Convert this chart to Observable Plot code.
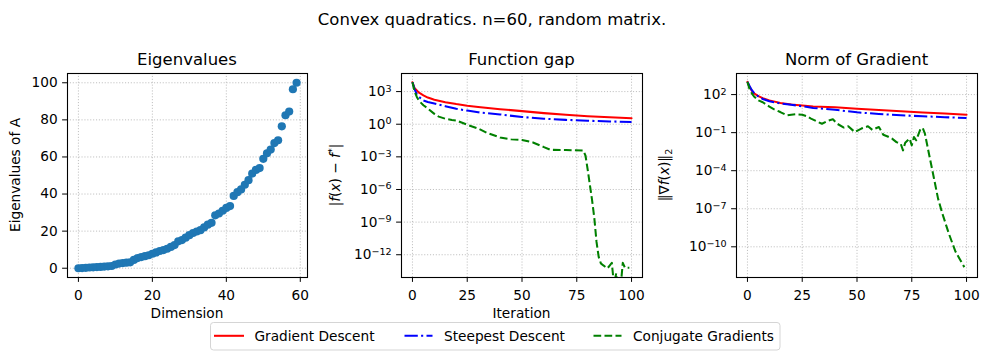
<!DOCTYPE html>
<html><head><meta charset="utf-8">
<script src="https://cdn.jsdelivr.net/npm/d3@7"></script>
<script src="https://cdn.jsdelivr.net/npm/@observablehq/plot@0.6"></script>
<style>
html,body{margin:0;padding:0;background:#fff;}
#root{position:relative;width:989px;height:356px;overflow:hidden;font-family:"DejaVu Sans",sans-serif;}
.panel{position:absolute;top:0;}
#overlay{position:absolute;left:0;top:0;pointer-events:none;}
</style></head><body><div id="root"></div>
<script>
// ---------------- data ----------------
const suptitle = "Convex quadratics. n=60, random matrix.";
const panelTitles = ["Eigenvalues", "Function gap", "Norm of Gradient"];
const seriesNames = ["Gradient Descent", "Steepest Descent", "Conjugate Gradients"];

// Eigenvalues of A (sorted), index = dimension 0..59
const eigenvalues = [0.0,0.1,0.2,0.4,0.5,0.6,0.7,0.9,1.0,1.2,2.0,2.5,2.8,3.0,3.2,4.5,5.5,6.0,6.5,7.0,
  7.8,8.5,9.3,9.8,10.5,11.5,12.5,14.5,15.2,16.5,17.8,19.0,19.8,20.5,22.0,23.5,24.5,28.5,29.5,31.0,
  32.5,33.5,39.0,41.0,42.5,45.0,47.5,51.0,53.0,54.0,59.0,62.0,64.0,67.5,69.0,76.5,82.5,84.5,96.5,100.0];
const dimensions = d3.range(eigenvalues.length);

// Function gap |f(x) - f*|
const gapIterGD = [0,1,2,3,5,7,10,15,20,25,30,40,50,60,70,80,90,100];
const gapGD     = [7.2e3,2.0e3,1.26e3,7.9e2,4.5e2,2.8e2,1.8e2,1.05e2,71,51,39,24,16,10.5,7.4,5.5,4.4,3.5];
const gapIterSD = [0,1,2,3,5,7,10,15,20,25,30,40,50,60,70,80,90,100];
const gapSD     = [7.2e3,1.6e3,5.6e2,3.2e2,1.5e2,110,80,45,26,18,12.6,7.9,4.6,3.2,2.5,2.1,1.8,1.6];
const gapIterCG = [0,1,2,3,5,7,10,12,15,18,20,25,30,34,40,45,50,55,60,63,70,78,79,80,81,82,83,84,85,
  86,87,88,89,90,91,92,93,94,95,96,97,98,99];
const gapCG     = [7.2e3,1.0e3,3.2e2,1.4e2,56,28,8.9,5.0,3.2,2.5,2.2,0.89,0.4,0.16,0.06,0.042,0.036,0.021,
  7.9e-3,4.4e-3,4.3e-3,3.8e-3,1.26e-3,6.3e-5,2.5e-6,1e-7,2.5e-9,1.6e-11,6.3e-13,
  1.6e-13,1.1e-13,7.9e-14,5.6e-14,1e-13,1.8e-13,1.6e-15,2e-14,3.2e-16,1e-15,1.8e-13,6.3e-14,6.3e-14,6.3e-14];

// Norm of gradient ||grad f(x)||_2
const gradIterGD = [0,1,2,3,5,7,10,15,20,25,30,40,50,60,70,80,90,100];
const gradGD     = [1000,400,200,126,76,52,35,22,16.6,13.8,11.7,10,7.6,6.0,4.8,3.9,3.2,2.6];
const gradIterSD = [0,1,2,3,5,7,10,15,20,25,30,40,50,60,70,80,90,100];
const gradSD     = [1000,450,224,135,71,45,30,20,15.8,12,8.9,6.3,4.0,2.95,2.34,1.95,1.66,1.41];
const gradIterCG = [0,1,2,3,5,7,10,12,15,18,20,22,25,27,29,34,37,39,41,44,46,49,52,55,57,60,62,64,66,68,
  70,71,72,74,75,76,77,79,80,81,83,85,87,89,92,95,97,99];
const gradCG     = [1000,251,126,71,35,25,11.2,7.1,4.2,2.3,2.6,2.8,2.6,2.0,1.26,0.5,0.89,1.12,0.5,0.25,
  0.32,0.11,0.21,0.32,0.166,0.28,0.069,0.05,0.034,0.018,0.0126,0.004,0.016,0.034,0.01,0.045,0.025,0.2,0.23,
  0.083,1.6e-3,3.2e-5,6.3e-7,4e-8,1e-9,4e-11,1e-11,2.5e-12];

const eigTicksX = [0,20,40,60];
const eigTicksY = [0,20,40,60,80,100];
const iterTicks = [0,25,50,75,100];
const gapTicksY = [1e3,1e0,1e-3,1e-6,1e-9,1e-12];
const gradTicksY = [1e2,1e-1,1e-4,1e-7,1e-10];

// ---------------- styles ----------------
const FONT = "DejaVu Sans";
const FS = 13.7;
const H = 356, TOP = 73, BOTTOM = 277;
const GRID = {stroke: "#b0b0b0", strokeOpacity: 1, strokeWidth: 0.8, strokeDasharray: "1.1,1.8"};
const LW = 2.05;
const styles = [
  {stroke: "red", strokeWidth: LW},
  {stroke: "blue", strokeWidth: LW, strokeDasharray: "13.3,3.3,2.1,3.3", strokeLinecap: "butt"},
  {stroke: "green", strokeWidth: LW, strokeDasharray: "7.7,3.3", strokeLinecap: "butt"}
];

const root = document.getElementById("root");

function makePanel(left, width, mL, mR, opts, marks, xTicks, yTicks, yFmt) {
  const chart = Plot.plot({
    width, height: H, marginLeft: mL, marginRight: mR, marginTop: TOP, marginBottom: H - BOTTOM,
    style: {fontFamily: FONT, fontSize: FS + "px", background: "transparent", color: "black", maxWidth: "none", overflow: "visible"},
    x: opts.x, y: opts.y,
    marks: [
      Plot.gridX({ticks: xTicks, ...GRID}),
      Plot.gridY({ticks: yTicks, ...GRID}),
      ...marks,
      Plot.frame({stroke: "black", strokeWidth: 1.1}),
      Plot.axisX({ticks: xTicks, tickSize: 4.9, tickPadding: 8, label: null, tickFormat: d => String(d)}),
      Plot.axisY({ticks: yTicks, tickSize: 4.9, tickPadding: 5, label: null, tickFormat: yFmt || (d => String(d))})
    ]
  });
  const div = document.createElement("div");
  div.className = "panel";
  div.style.left = left + "px";
  div.style.width = width + "px";
  div.appendChild(chart);
  root.appendChild(div);
  return chart;
}

function powFmt(d) { return "E" + Math.round(Math.log10(d)); }
function superscriptTicks(chart) {
  d3.select(chart).selectAll('g[aria-label="y-axis tick label"] text').each(function () {
    const t = d3.select(this);
    const s = t.text();
    if (!s.startsWith("E")) return;
    const e = s.slice(1).replace("-", "\u2212");
    t.text("10");
    t.append("tspan").attr("dy", -4.4).attr("font-size", (FS * 0.7).toFixed(2)).text(e);
  });
}

// Panel 1: eigenvalues
makePanel(0, 320, 67, 13,
  {x: {domain: [-2.95, 61.95]}, y: {domain: [-5, 105]}},
  [Plot.dot(eigenvalues, {x: dimensions, y: eigenvalues, r: 4.1, fill: "#1f77b4", stroke: null})],
  eigTicksX, eigTicksY);

// Panel 2: function gap
const p2 = makePanel(330, 320, 71, 8,
  {x: {domain: [-5, 105]}, y: {type: "log", domain: [8.1e-15, 4.6e4]}},
  [
    Plot.line(gapGD, {x: gapIterGD, y: gapGD, ...styles[0], clip: true}),
    Plot.line(gapSD, {x: gapIterSD, y: gapSD, ...styles[1], clip: true}),
    Plot.line(gapCG, {x: gapIterCG, y: gapCG, ...styles[2], clip: true})
  ],
  iterTicks, gapTicksY, powFmt);
superscriptTicks(p2);

// Panel 3: norm of gradient
const p3 = makePanel(660, 329, 76, 12,
  {x: {domain: [-5, 105]}, y: {type: "log", domain: [3.8e-13, 4.6e3]}},
  [
    Plot.line(gradGD, {x: gradIterGD, y: gradGD, ...styles[0], clip: true}),
    Plot.line(gradSD, {x: gradIterSD, y: gradSD, ...styles[1], clip: true}),
    Plot.line(gradCG, {x: gradIterCG, y: gradCG, ...styles[2], clip: true})
  ],
  iterTicks, gradTicksY, powFmt);
superscriptTicks(p3);

// ---------------- overlay: titles, labels, legend ----------------
const ov = d3.select(root).append("svg").attr("id", "overlay")
  .attr("width", 989).attr("height", H)
  .attr("font-family", FONT).attr("fill", "black");

function text(x, y, s, size, anchor = "middle") {
  return ov.append("text").attr("x", x).attr("y", y).attr("font-size", size)
    .attr("text-anchor", anchor).text(s);
}
text(492, 24.5, suptitle, 16.5);
const centers = [187, 521.5, 856.5];
panelTitles.forEach((t, i) => text(centers[i], 64.7, t, 16.5));
text(187, 318.3, "Dimension", FS);
text(521.5, 318.3, "Iteration", FS);

// y labels
ov.append("text").attr("transform", "translate(20,175) rotate(-90)")
  .attr("text-anchor", "middle").attr("font-size", FS).text("Eigenvalues of A");

const yl2 = ov.append("text").attr("transform", "translate(339.5,175) rotate(-90)")
  .attr("text-anchor", "middle").attr("font-size", FS);
yl2.append("tspan").text("|");
yl2.append("tspan").attr("font-style", "italic").text("f");
yl2.append("tspan").text("(");
yl2.append("tspan").attr("font-style", "italic").text("x");
yl2.append("tspan").text(") \u2212 ");
yl2.append("tspan").attr("font-style", "italic").text("f");
yl2.append("tspan").attr("dy", -5).attr("font-size", FS * 0.7).text("*");
yl2.append("tspan").attr("dy", 5).text("|");

const yl3 = ov.append("text").attr("transform", "translate(669,175) rotate(-90)")
  .attr("text-anchor", "middle").attr("font-size", FS);
yl3.append("tspan").text("\u2016\u2207");
yl3.append("tspan").attr("font-style", "italic").text("f");
yl3.append("tspan").text("(");
yl3.append("tspan").attr("font-style", "italic").text("x");
yl3.append("tspan").text(")\u2016");
yl3.append("tspan").attr("dy", 3).attr("font-size", FS * 0.7).text("2");

// legend
ov.append("rect").attr("x", 210.5).attr("y", 322.5).attr("width", 569.5).attr("height", 27.5)
  .attr("rx", 3).attr("fill", "white").attr("fill-opacity", 0.8)
  .attr("stroke", "#d5d5d5").attr("stroke-width", 1);
const legendX = [215, 404.5, 593.5];
seriesNames.forEach((name, i) => {
  const st = styles[i];
  ov.append("line").attr("x1", legendX[i]).attr("x2", legendX[i] + 28)
    .attr("y1", 335.8).attr("y2", 335.8)
    .attr("stroke", st.stroke).attr("stroke-width", st.strokeWidth)
    .attr("stroke-dasharray", st.strokeDasharray || null)
    .attr("stroke-linecap", st.strokeLinecap || "square");
  text(legendX[i] + 39.5, 340.8, name, FS, "start");
});
</script></body></html>
